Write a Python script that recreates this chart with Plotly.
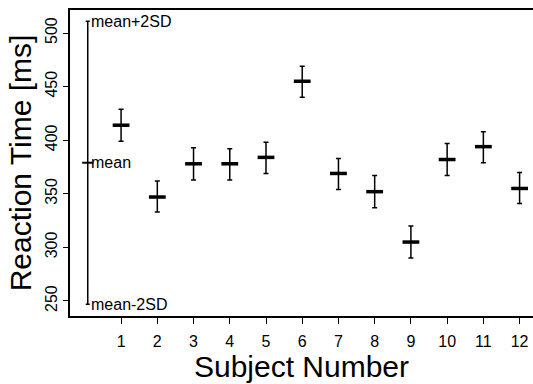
import plotly.graph_objects as go

subjects = [1, 2, 3, 4, 5, 6, 7, 8, 9, 10, 11, 12]
rt_mean = [414, 347, 378, 378, 384, 455, 369, 352, 305, 382, 394, 355]
rt_err_plus = [15, 15, 15, 14, 14, 14, 14, 15, 15, 15, 14, 15]
rt_err_minus = [15, 14, 15, 15, 15, 15, 15, 15, 15, 15, 15, 14]

ref_x = [0.08]
ref_mean = [379]
ref_2sd = [132]

ytick_vals = [250, 300, 350, 400, 450, 500]

fig = go.Figure()

fig.add_trace(go.Scatter(
    x=subjects, y=rt_mean, mode="markers", cliponaxis=False,
    marker=dict(symbol="line-ew", size=12, line=dict(width=3.5, color="black")),
    error_y=dict(type="data", symmetric=False, array=rt_err_plus, arrayminus=rt_err_minus,
                 width=2.5, thickness=1.5, color="black"),
    showlegend=False,
))

fig.add_trace(go.Scatter(
    x=ref_x, y=ref_mean, mode="markers", cliponaxis=False,
    marker=dict(symbol="line-ew", size=8, line=dict(width=2, color="black")),
    error_y=dict(type="data", array=ref_2sd, width=2, thickness=1.5, color="black"),
    showlegend=False,
))

font_lbl = dict(family="Liberation Sans, Arial, sans-serif", size=16, color="black")
for txt, yv in [("mean+2SD", ref_mean[0] + ref_2sd[0]), ("mean", ref_mean[0]), ("mean-2SD", ref_mean[0] - ref_2sd[0])]:
    fig.add_annotation(x=ref_x[0], y=yv, text=txt, showarrow=False, xanchor="left",
                       yanchor="middle", xshift=1, font=font_lbl)

fig.update_layout(
    width=533, height=384,
    margin=dict(l=70, r=0, t=10, b=68),
    paper_bgcolor="white", plot_bgcolor="white",
    font=dict(family="Liberation Sans, Arial, sans-serif", color="black"),
    xaxis=dict(
        range=[-0.41, 12.37], tickvals=subjects, ticktext=[str(s) for s in subjects],
        showgrid=False, zeroline=False, showline=True, mirror=True, linecolor="black", linewidth=1.5,
        ticks="outside", ticklen=6, tickwidth=1, tickcolor="black",
        tickfont=dict(size=16), automargin=False, ticklabelstandoff=4,
        title=dict(text="Subject Number", font=dict(size=30), standoff=2),
    ),
    yaxis=dict(
        range=[236, 521.5], tickvals=ytick_vals,
        showgrid=False, zeroline=False, showline=True, linecolor="black", linewidth=1.5,
        ticks="outside", ticklen=5, tickwidth=1, tickcolor="black",
        tickangle=-90, tickfont=dict(size=16), automargin=False,
        title=dict(text="Reaction Time [ms]", font=dict(size=30), standoff=2),
    ),
)

fig.write_html("out.html", config={"displayModeBar": False},
               post_script="document.body.style.margin='0';document.body.style.overflow='hidden';")
